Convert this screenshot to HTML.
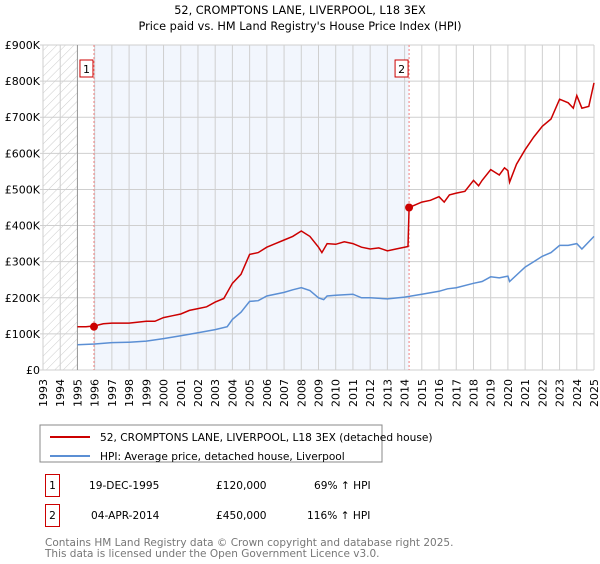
<!DOCTYPE html>
<html><head><meta charset="utf-8"><style>
body{margin:0;width:600px;height:560px;background:#fff;font-family:"DejaVu Sans","Liberation Sans",sans-serif;overflow:hidden}
svg text{font-family:"DejaVu Sans","Liberation Sans",sans-serif}
</style></head><body>
<svg id="c" width="600" height="560">
<text x="300" y="14" text-anchor="middle" font-size="11.3">52, CROMPTONS LANE, LIVERPOOL, L18 3EX</text>
<text x="300" y="30" text-anchor="middle" font-size="11.3">Price paid vs. HM Land Registry's House Price Index (HPI)</text>
<defs><pattern id="h" width="6" height="6" patternUnits="userSpaceOnUse" patternTransform="rotate(45)"><line x1="0" y1="0" x2="0" y2="6" stroke="#ccc" stroke-width="1"/></pattern></defs>
<g id="plot"></g>
<rect x="40" y="425" width="342" height="37" fill="#fff" stroke="#888"/>
<line x1="50" y1="437" x2="90" y2="437" stroke="#cc0000" stroke-width="2"/>
<text x="100" y="441" font-size="10.6">52, CROMPTONS LANE, LIVERPOOL, L18 3EX (detached house)</text>
<line x1="50" y1="456" x2="90" y2="456" stroke="#5b8fd4" stroke-width="2"/>
<text x="100" y="460" font-size="10.6">HPI: Average price, detached house, Liverpool</text>
<g font-size="10.6">
<rect x="45.5" y="474.5" width="14" height="22" fill="none" stroke="#cc0000"/><text x="52.5" y="489" text-anchor="middle">1</text>
<text x="89" y="489">19-DEC-1995</text><text x="216" y="489">£120,000</text><text x="314" y="489">69% ↑ HPI</text>
<rect x="45.5" y="504.5" width="14" height="22" fill="none" stroke="#cc0000"/><text x="52.5" y="519" text-anchor="middle">2</text>
<text x="91" y="519">04-APR-2014</text><text x="216" y="519">£450,000</text><text x="307" y="519">116% ↑ HPI</text>
</g>
<text x="45" y="546" font-size="10.5" fill="#777">Contains HM Land Registry data © Crown copyright and database right 2025.</text>
<text x="45" y="557" font-size="10.5" fill="#777">This data is licensed under the Open Government Licence v3.0.</text>
</svg>
<script>
const yTicks=[0,100,200,300,400,500,600,700,800,900];
const yTickLabels=["£0","£100K","£200K","£300K","£400K","£500K","£600K","£700K","£800K","£900K"];
const years=[1993,1994,1995,1996,1997,1998,1999,2000,2001,2002,2003,2004,2005,2006,2007,2008,2009,2010,2011,2012,2013,2014,2015,2016,2017,2018,2019,2020,2021,2022,2023,2024,2025];
const saleDates=[1995.96,2014.26];
const salePrices=[120,450];
const saleLabels=["1","2"];
const redT=[1995,1995.5,1996,1996.5,1997,1998,1999,1999.5,2000,2000.5,2001,2001.5,2002,2002.5,2003,2003.5,2004,2004.5,2005,2005.5,2006,2006.5,2007,2007.5,2008,2008.5,2009,2009.2,2009.5,2010,2010.5,2011,2011.5,2012,2012.5,2013,2013.5,2014.2,2014.26,2015,2015.5,2016,2016.3,2016.6,2017,2017.5,2018,2018.3,2018.5,2019,2019.5,2019.8,2020,2020.1,2020.5,2021,2021.5,2022,2022.5,2023,2023.5,2023.8,2024,2024.3,2024.7,2025];
const redV=[120,120,122,128,130,130,135,135,145,150,155,165,170,175,188,198,240,265,320,325,340,350,360,370,385,370,340,325,350,348,355,350,340,335,338,330,335,342,450,465,470,480,465,485,490,495,525,510,525,555,540,560,552,520,570,610,645,675,695,750,740,725,760,725,730,795];
const blueT=[1995,1996,1997,1998,1999,2000,2001,2002,2003,2003.7,2004,2004.5,2005,2005.5,2006,2007,2007.5,2008,2008.5,2009,2009.3,2009.5,2010,2011,2011.5,2012,2013,2014,2015,2016,2016.5,2017,2018,2018.5,2019,2019.5,2020,2020.1,2021,2021.5,2022,2022.5,2023,2023.5,2024,2024.3,2025];
const blueV=[70,72,76,77,80,87,95,103,112,120,140,160,190,192,205,215,222,228,220,200,195,205,207,210,200,200,197,202,210,218,225,228,240,245,258,255,260,245,285,300,315,325,345,345,350,335,370];
const X0=43,X1=594,Y0=370,Y1=45;
const x=t=>X0+(t-1993)*(X1-X0)/32;
const y=v=>Y0-v*(Y0-Y1)/900;
const NS="http://www.w3.org/2000/svg";
const g=document.getElementById('plot');
function mk(tag,a,p){const e=document.createElementNS(NS,tag);for(const k in a)e.setAttribute(k,a[k]);(p||g).appendChild(e);return e;}
let e;
e=mk('rect',{x:x(1993),y:Y1,width:x(1995)-x(1993),height:Y0-Y1,fill:'url(#h)'});


e=mk('rect',{x:x(saleDates[0]),y:Y1,width:x(saleDates[1])-x(saleDates[0]),height:Y0-Y1,fill:'#f2f6fd'});


years.forEach(yr=>{mk('line',{x1:x(yr),x2:x(yr),y1:Y1,y2:Y0,stroke:'#cfcfcf','stroke-width':1});
const t=mk('text',{x:0,y:0,'font-size':11,transform:`translate(${x(yr)+4},${Y0+37}) rotate(-90)`});t.textContent=yr;

});
yTicks.forEach((v,i)=>{mk('line',{x1:X0-3,x2:X1,y1:y(v),y2:y(v),stroke:'#cfcfcf','stroke-width':1});
const t=mk('text',{x:X0-3,y:y(v)+4,'font-size':11,'text-anchor':'end'});t.textContent=yTickLabels[i];

});
mk('line',{x1:x(1995),x2:x(1995),y1:Y1,y2:Y0,stroke:'#999'});
saleDates.forEach((d,i)=>{mk('line',{x1:x(d),x2:x(d),y1:Y1,y2:Y0,stroke:'#f08080','stroke-dasharray':'2,2'});
const r=mk('rect',{x:x(d)-14,y:60,width:13,height:17,fill:'#fff',stroke:'#cc0000'});


const t=mk('text',{x:x(d)-7.5,y:73,'font-size':11,'text-anchor':'middle'});t.textContent=saleLabels[i];});
const path=(T,V)=>T.map((t,i)=>(i?'L':'M')+x(t).toFixed(1)+','+y(V[i]).toFixed(1)).join('');
e=mk('path',{d:path(blueT,blueV),fill:'none',stroke:'#5b8fd4','stroke-width':1.5});


e=mk('path',{d:path(redT,redV),fill:'none',stroke:'#cc0000','stroke-width':1.5});


saleDates.forEach((d,i)=>{const c=mk('circle',{cx:x(d),cy:y(salePrices[i]),r:4,fill:'#cc0000'});

});
</script>
</body></html>
